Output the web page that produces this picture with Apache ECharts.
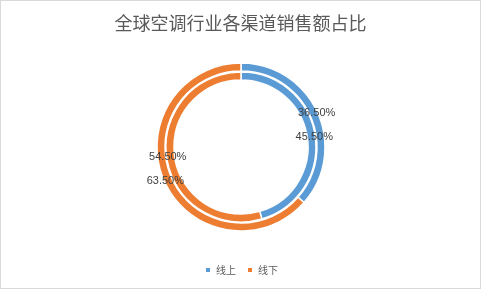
<!DOCTYPE html>
<html>
<head>
<meta charset="utf-8">
<script src="https://cdn.jsdelivr.net/npm/echarts@6/dist/echarts.min.js"></script>
<style>
html,body{margin:0;padding:0;background:#fff;}
#c{width:479px;height:287px;border:1px solid #d9d9d9;}
</style>
</head>
<body>
<div id="c"></div>
<script>
var titleText = '全球空调行业各渠道销售额占比';
var categories = ['线上', '线下'];
var outerValues = [36.5, 63.5];
var innerValues = [45.5, 54.5];
var colors = ['#5B9BD5', '#ED7D31'];

function toData(vals) {
  return categories.map(function (c, i) { return { name: c, value: vals[i] }; });
}
var labelCfg = {
  show: true,
  position: 'inside',
  formatter: function (p) { return p.value.toFixed(2) + '%'; },
  color: '#404040',
  fontSize: 11,
  fontFamily: 'Liberation Sans, sans-serif'
};
var chart = echarts.init(document.getElementById('c'));
chart.setOption({
  color: colors,
  animation: false,
  title: {
    text: titleText,
    left: 'center',
    top: 8,
    textStyle: { fontSize: 18, fontWeight: 'normal', color: '#595959', fontFamily: 'Noto Sans CJK SC' }
  },
  legend: {
    data: categories,
    top: 264,
    left: 203,
    icon: 'rect',
    itemWidth: 6,
    itemHeight: 6,
    itemGap: 10,
    padding: 0,
    textStyle: { fontSize: 10, color: '#595959', fontFamily: 'Noto Sans CJK SC' }
  },
  series: [
    {
      type: 'pie',
      center: [240, 146],
      radius: [76, 84],
      startAngle: 90,
      clockwise: true,
      data: toData(outerValues),
      label: labelCfg,
      labelLine: { show: false },
      itemStyle: { borderColor: '#fff', borderWidth: 1.5 },
      emphasis: { disabled: true }
    },
    {
      type: 'pie',
      center: [240, 146],
      radius: [67, 75],
      startAngle: 90,
      clockwise: true,
      data: toData(innerValues),
      label: labelCfg,
      labelLine: { show: false },
      itemStyle: { borderColor: '#fff', borderWidth: 1.5 },
      emphasis: { disabled: true }
    }
  ]
});
</script>
</body>
</html>
